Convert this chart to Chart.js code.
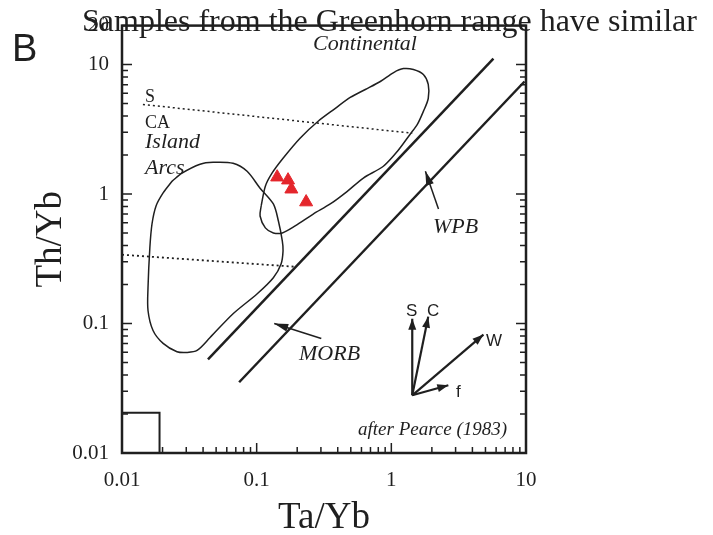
<!DOCTYPE html>
<html lang="en">
<head>
<script src="https://cdn.jsdelivr.net/npm/chart.js"></script>
<style>
  body { margin: 0; background: #fff; }
</style>
</head>
<body>
<canvas id="pearceChart" width="713" height="535"></canvas>
<script>
const xTicks = [0.01, 0.1, 1, 10];
const yTicks = [0.01, 0.1, 1, 10, 20];

// Greenhorn samples (Ta/Yb, Th/Yb)
const sampleTaYb = [0.142, 0.171, 0.181, 0.233];
const sampleThYb = [1.35, 1.28, 1.09, 0.867];

// oceanic / island arc field outline
const islandArcX = [0.0236, 0.0279, 0.038, 0.0475, 0.0668, 0.0849, 0.106, 0.133, 0.145, 0.155, 0.157, 0.152, 0.133, 0.101, 0.0668, 0.0451, 0.0361, 0.0304, 0.0256, 0.0202, 0.017, 0.0156, 0.0156, 0.0161, 0.0167, 0.0179, 0.0202, 0.0236];
const islandArcY = [1.26, 1.45, 1.70, 1.76, 1.73, 1.50, 1.11, 0.838, 0.619, 0.434, 0.365, 0.290, 0.226, 0.170, 0.119, 0.078, 0.062, 0.0598, 0.0606, 0.0702, 0.0883, 0.126, 0.189, 0.385, 0.587, 0.809, 1.02, 1.26];

// continental arc field outline
const contArcX = [0.108, 0.116, 0.130, 0.157, 0.210, 0.286, 0.384, 0.495, 0.641, 0.828, 1.04, 1.23, 1.46, 1.73, 1.88, 1.88, 1.73, 1.56, 1.38, 1.11, 0.873, 0.620, 0.471, 0.352, 0.263, 0.193, 0.155, 0.133, 0.116, 0.106, 0.108];
const contArcY = [0.809, 1.15, 1.45, 1.89, 2.70, 3.65, 4.59, 5.57, 6.42, 7.40, 8.68, 9.31, 9.16, 8.38, 7.02, 5.47, 4.35, 3.45, 2.90, 2.14, 1.64, 1.33, 1.05, 0.838, 0.701, 0.567, 0.501, 0.501, 0.548, 0.677, 0.809];

// mantle array boundaries
const upperArrayX = [0.0435, 5.73];
const upperArrayY = [0.0528, 11.1];
const lowerArrayX = [0.0741, 9.75];
const lowerArrayY = [0.0352, 7.40];

// dotted S / CA / oceanic divisions
const upperDivX = [0.0143, 1.43];
const upperDivY = [4.92, 2.95];
const lowerDivX = [0.01, 0.197];
const lowerDivY = [0.340, 0.274];

// small box in the corner
const boxX = [0.01, 0.019, 0.019, 0.01, 0.01];
const boxY = [0.01, 0.01, 0.0205, 0.0205, 0.01];

// label arrows (tail -> tip)
const wpbArrowX = [2.24, 1.79];
const wpbArrowY = [0.767, 1.50];
const morbArrowX = [0.302, 0.135];
const morbArrowY = [0.0767, 0.1];

// vector diagram: origin -> S, C, W, f
const vecOrigin = [1.43, 0.0279];
const vecS = [1.43, 0.109];
const vecC = [1.88, 0.113];
const vecW = [4.83, 0.0822];
const vecF = [2.65, 0.0334];

const ink = '#1f1f1f';
const serif = '"Liberation Serif", "Times New Roman", serif';
const sans = '"Liberation Sans", Arial, sans-serif';

function pts(xs, ys) {
    return xs.map((v, i) => ({ x: v, y: ys[i] }));
}

function lineSet(xs, ys, extra) {
    return Object.assign({
        type: 'line',
        data: pts(xs, ys),
        borderColor: ink,
        borderWidth: 1.5,
        pointRadius: 0,
        fill: false,
        tension: 0
    }, extra || {});
}

// arrowheads + frame + ticks + free text
const decorPlugin = {
    id: 'decor',
    afterDatasetsDraw(chart) {
        const ctx = chart.ctx;
        chart.data.datasets.forEach((ds, i) => {
            if (!ds.arrow) return;
            const pts = chart.getDatasetMeta(i).data;
            const a = pts[pts.length - 2], b = pts[pts.length - 1];
            const ang = Math.atan2(b.y - a.y, b.x - a.x);
            const len = ds.arrow.len, w = ds.arrow.w;
            ctx.save();
            ctx.fillStyle = ink;
            ctx.translate(b.x, b.y);
            ctx.rotate(ang);
            ctx.beginPath();
            ctx.moveTo(0, 0);
            ctx.lineTo(-len, -w / 2);
            ctx.lineTo(-len, w / 2);
            ctx.closePath();
            ctx.fill();
            ctx.restore();
        });
    },
    afterDraw(chart) {
        const ctx = chart.ctx;
        const area = chart.chartArea;
        const sx = chart.scales.x, sy = chart.scales.y;
        ctx.save();

        // tick marks, inside the frame
        ctx.strokeStyle = ink;
        ctx.lineWidth = 1.5;
        for (let d = -2; d <= 1; d++) {
            for (let m = 1; m <= 9; m++) {
                const v = m * Math.pow(10, d);
                const len = m === 1 ? 10 : 6;
                if (v >= sx.min && v <= sx.max) {
                    const px = sx.getPixelForValue(v);
                    ctx.beginPath();
                    ctx.moveTo(px, area.bottom);
                    ctx.lineTo(px, area.bottom - len);
                    ctx.stroke();
                }
                if (v >= sy.min && v <= sy.max) {
                    const py = sy.getPixelForValue(v);
                    ctx.beginPath();
                    ctx.moveTo(area.left, py);
                    ctx.lineTo(area.left + len, py);
                    ctx.moveTo(area.right, py);
                    ctx.lineTo(area.right - len, py);
                    ctx.stroke();
                }
            }
        }

        // frame
        ctx.lineWidth = 2.5;
        ctx.strokeRect(area.left, area.top, area.right - area.left, area.bottom - area.top);

        // free text
        ctx.fillStyle = ink;
        ctx.textBaseline = 'alphabetic';
        ctx.textAlign = 'left';
        const texts = [
            ['Samples from the Greenhorn range have similar', 82, 31, '32px ' + serif],
            ['B', 12, 61, '38px ' + sans],
            ['Continental', 313, 50, 'italic 22px ' + serif],
            ['S', 145, 102, '18px ' + serif],
            ['CA', 145, 128, '18px ' + serif],
            ['Island', 145, 148, 'italic 22px ' + serif],
            ['Arcs', 145, 174, 'italic 22px ' + serif],
            ['WPB', 433, 233, 'italic 22px ' + serif],
            ['MORB', 299, 360, 'italic 22px ' + serif],
            ['after Pearce (1983)', 358, 435, 'italic 19px ' + serif],
            ['S', 406, 316, '17px ' + sans],
            ['C', 427, 316, '17px ' + sans],
            ['W', 486, 346, '17px ' + sans],
            ['f', 456, 397, '17px ' + sans]
        ];
        texts.forEach(t => {
            ctx.font = t[3];
            ctx.fillText(t[0], t[1], t[2]);
        });
        ctx.restore();
    }
};

const vecArrow = { len: 11, w: 8 };
const labelArrow = { len: 14, w: 8 };

new Chart(document.getElementById('pearceChart'), {
    type: 'scatter',
    data: {
        datasets: [
            lineSet(islandArcX, islandArcY, { tension: 0.3 }),
            lineSet(contArcX, contArcY, { tension: 0.3 }),
            lineSet(upperArrayX, upperArrayY, { borderWidth: 2.5 }),
            lineSet(lowerArrayX, lowerArrayY, { borderWidth: 2.5 }),
            lineSet(upperDivX, upperDivY, { borderWidth: 1.5, borderDash: [2, 3] }),
            lineSet(lowerDivX, lowerDivY, { borderWidth: 1.8, borderDash: [2, 3] }),
            lineSet(boxX, boxY, { borderWidth: 2 }),
            lineSet(wpbArrowX, wpbArrowY, { borderWidth: 1.5, arrow: labelArrow }),
            lineSet(morbArrowX, morbArrowY, { borderWidth: 1.5, arrow: labelArrow }),
            lineSet([vecOrigin[0], vecS[0]], [vecOrigin[1], vecS[1]], { borderWidth: 2.2, arrow: vecArrow }),
            lineSet([vecOrigin[0], vecC[0]], [vecOrigin[1], vecC[1]], { borderWidth: 2.2, arrow: vecArrow }),
            lineSet([vecOrigin[0], vecW[0]], [vecOrigin[1], vecW[1]], { borderWidth: 2.2, arrow: vecArrow }),
            lineSet([vecOrigin[0], vecF[0]], [vecOrigin[1], vecF[1]], { borderWidth: 2.2, arrow: vecArrow }),
            {
                type: 'scatter',
                data: pts(sampleTaYb, sampleThYb),
                pointStyle: 'triangle',
                pointRadius: 7.5,
                backgroundColor: '#e4262c',
                borderColor: '#e4262c',
                borderWidth: 1
            }
        ]
    },
    options: {
        responsive: false,
        animation: false,
        events: [],
        layout: { padding: { left: 0, top: 24, right: 187, bottom: 0 } },
        plugins: { legend: { display: false }, tooltip: { enabled: false } },
        scales: {
            x: {
                type: 'logarithmic',
                min: 0.01,
                max: 10,
                afterBuildTicks: s => { s.ticks = xTicks.map(v => ({ value: v })); },
                afterFit: s => { s.height = 82; },
                grid: { display: false, drawTicks: false },
                border: { display: false },
                ticks: {
                    autoSkip: false, maxRotation: 0, padding: 15, color: ink,
                    font: { family: serif, size: 21 },
                    callback: v => String(v)
                },
                title: {
                    display: true, text: 'Ta/Yb', color: ink,
                    font: { family: serif, size: 37, lineHeight: 0.9 },
                    padding: { top: 0, bottom: 0 }
                }
            },
            y: {
                type: 'logarithmic',
                min: 0.01,
                max: 20,
                afterBuildTicks: s => { s.ticks = yTicks.map(v => ({ value: v })); },
                afterFit: s => { s.width = 122; },
                grid: { display: false, drawTicks: false },
                border: { display: false },
                ticks: {
                    autoSkip: false, padding: 13, color: ink,
                    font: { family: serif, size: 21 },
                    callback: v => String(v)
                },
                title: {
                    display: true, text: 'Th/Yb', color: ink,
                    font: { family: serif, size: 37, lineHeight: 1.2 },
                    padding: { top: 29, bottom: 0 }
                }
            }
        }
    },
    plugins: [decorPlugin]
});
</script>
</body>
</html>
